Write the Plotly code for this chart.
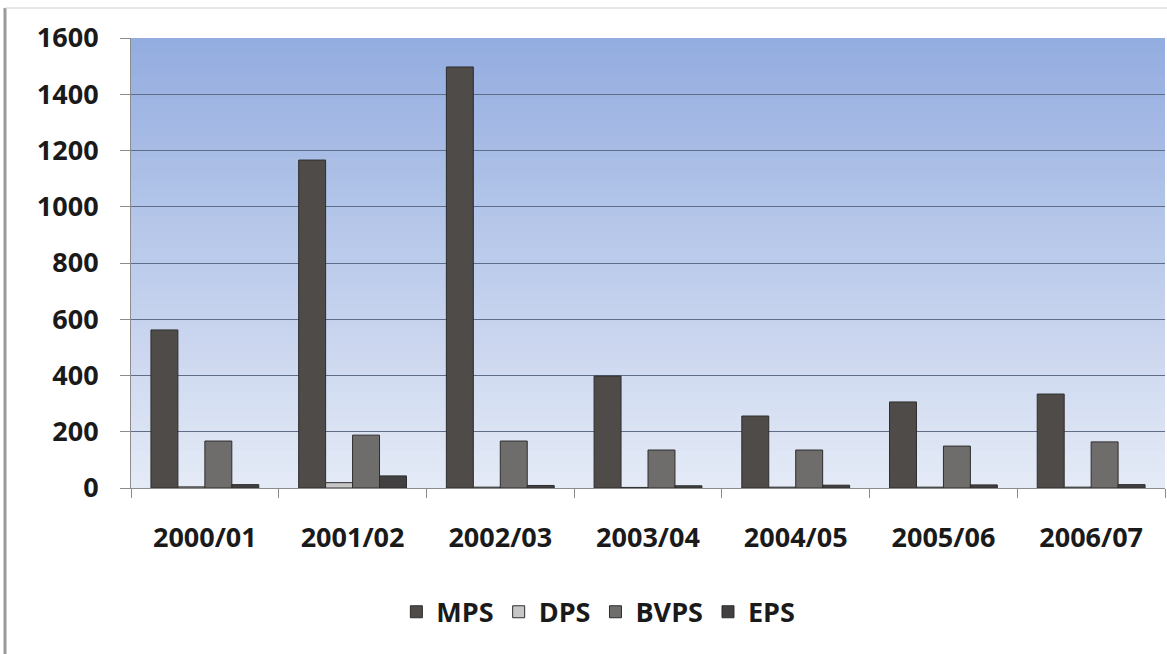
import plotly.graph_objects as go

years = ["2000/01", "2001/02", "2002/03", "2003/04", "2004/05", "2005/06", "2006/07"]
mps = [562, 1166, 1497, 398, 256, 306, 334]
dps = [4, 19, 3, 2, 3, 3, 3]
bvps = [167, 188, 167, 135, 135, 149, 164]
eps = [12, 43, 9, 8, 10, 11, 12]

series = [
    ("MPS", mps, "#4e4b49"),
    ("DPS", dps, "#c6c6c6"),
    ("BVPS", bvps, "#6f6d6b"),
    ("EPS", eps, "#424040"),
]

W, H = 1167, 654
L, R, T, B = 131, 2, 38, 166
FONT = "Open Sans"

fig = go.Figure()
for name, vals, col in series:
    fig.add_trace(go.Bar(
        x=years, y=vals, name=name,
        marker=dict(color=col, line=dict(color="#2e2e2e", width=1)),
    ))

# vertical gradient behind the plot area, drawn as overlapping bands
def lerp(a, b, t):
    return tuple(round(a[i] + (b[i] - a[i]) * t) for i in range(3))

top_c = (148, 173, 224)
bot_c = (228, 234, 246)
n = 60
shapes = []
for i in range(n):
    t = i / (n - 1)
    c = lerp(top_c, bot_c, t)
    y1 = 1 - i / n
    y0 = max(0, 1 - (i + 1.6) / n)
    shapes.append(dict(type="rect", xref="paper", yref="paper",
                       x0=0, x1=1, y0=y0, y1=y1, layer="below",
                       line=dict(width=0), fillcolor="rgb(%d,%d,%d)" % c))

pw = W - L - R
ph = H - T - B
# outer frame of the chart
shapes.append(dict(type="line", xref="paper", yref="paper",
                   x0=(5 - L) / pw, x1=(5 - L) / pw,
                   y0=-B / ph, y1=(ph + T - 8) / ph,
                   line=dict(color="#9a9a9a", width=3)))
shapes.append(dict(type="line", xref="paper", yref="paper",
                   x0=(5 - L) / pw, x1=(W - L) / pw,
                   y0=(ph + T - 8) / ph, y1=(ph + T - 8) / ph,
                   line=dict(color="#d0d0d0", width=1)))

fig.update_layout(
    width=W, height=H,
    margin=dict(l=L, r=R, t=T, b=B),
    paper_bgcolor="white",
    plot_bgcolor="rgba(0,0,0,0)",
    barmode="group",
    bargap=0.27,
    bargroupgap=0,
    shapes=shapes,
    font=dict(family=FONT, color="#1a1a1a"),
    legend=dict(orientation="h", x=0.452, xanchor="center", y=-0.276, yanchor="middle",
                font=dict(size=27, family=FONT, weight="bold"),
                itemwidth=30, traceorder="normal"),
    xaxis=dict(
        showgrid=False, showline=True, linecolor="#8c8c8c", linewidth=1,
        ticks="outside", tickson="boundaries", ticklen=9, tickcolor="#8c8c8c",
        tickfont=dict(size=27, family=FONT, weight="bold"),
        ticklabelstandoff=26,
    ),
    yaxis=dict(
        range=[0, 1600], dtick=200, showgrid=True, gridcolor="#5f6e88", gridwidth=1,
        showline=True, linecolor="#8c8c8c", linewidth=1,
        ticks="outside", ticklen=10, tickcolor="#8c8c8c",
        tickfont=dict(size=27, family=FONT, weight="bold"),
        ticklabelstandoff=16,
        zeroline=False,
    ),
)

fig.write_html("out.html")
